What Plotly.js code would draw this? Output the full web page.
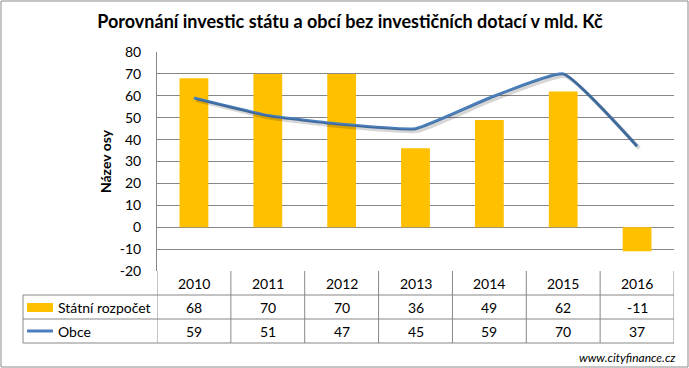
<!DOCTYPE html>
<html>
<head>
<meta charset="utf-8">
<script src="https://cdn.plot.ly/plotly-3.0.1.min.js"></script>
<style>html,body{margin:0;padding:0;background:#fff;}#chart{width:689px;height:368px;}</style>
</head>
<body>
<div id="chart"></div>
<script>
const categories = ['2010','2011','2012','2013','2014','2015','2016'];
const statniRozpocet = [68, 70, 70, 36, 49, 62, -11];
const obce = [59, 51, 47, 45, 59, 70, 37];
const seriesNames = ['Státní rozpočet', 'Obce'];
const yTicks = [-20, -10, 0, 10, 20, 30, 40, 50, 60, 70, 80];

const FONT = 'Lato, Carlito, "Open Sans", sans-serif';
const GRID = '#878787';
const W = 689, H = 368, L = 157, R = 674, T = 52, B = 271;
const pw = R - L, ph = B - T;
const px = p => (p - L) / pw;
const py = p => (B - p) / ph;

const traces = [
  {type:'bar', x:categories, y:statniRozpocet, name:seriesNames[0],
   marker:{color:'#FFC000'}, width:0.39, hoverinfo:'x+y'},
  {type:'scatter', mode:'lines', x:categories, y:obce, name:'shadow',
   xaxis:'x2', yaxis:'y2', line:{color:'rgba(0,0,0,0.16)', width:4, shape:'spline', smoothing:0.4},
   hoverinfo:'skip', showlegend:false},
  {type:'scatter', mode:'lines', x:categories, y:obce, name:seriesNames[1],
   line:{color:'#4A7EBB', width:3, shape:'spline', smoothing:0.4}}
];

const shapes = [];
const annotations = [];
const rowY = [py(295), py(319), py(343)];
for (let i = 0; i <= categories.length; i++) {
  shapes.push({type:'line', xref:'x', yref:'paper', x0:i-0.5, x1:i-0.5, y0:0, y1:rowY[2],
    line:{color:GRID, width:1}});
}
rowY.forEach(y => shapes.push({type:'line', xref:'paper', yref:'paper', x0:px(23), x1:1, y0:y, y1:y,
  line:{color:GRID, width:1}}));
shapes.push({type:'line', xref:'paper', yref:'paper', x0:px(23), x1:px(23), y0:rowY[0], y1:rowY[2],
  line:{color:GRID, width:1}});
shapes.push({type:'rect', xref:'paper', yref:'paper', x0:px(27), x1:px(53), y0:py(303), y1:py(312),
  fillcolor:'#FFC000', line:{width:0}});
shapes.push({type:'line', xref:'paper', yref:'paper', x0:px(27), x1:px(53), y0:py(331), y1:py(331),
  line:{color:'#4A7EBB', width:3}});
shapes.push({type:'rect', xref:'paper', yref:'paper', x0:px(1), x1:px(688), y0:py(1), y1:py(367),
  line:{color:'#8a8a8a', width:1}, fillcolor:'rgba(0,0,0,0)'});

annotations.push({xref:'paper', yref:'paper', x:px(56), y:py(307.5), text:seriesNames[0],
  xanchor:'left', yanchor:'middle', showarrow:false, font:{family:FONT, size:14, color:'#000'}});
annotations.push({xref:'paper', yref:'paper', x:px(56), y:py(331.5), text:seriesNames[1],
  xanchor:'left', yanchor:'middle', showarrow:false, font:{family:FONT, size:14, color:'#000'}});

categories.forEach((c, i) => {
  annotations.push({xref:'x', yref:'paper', x:i, y:py(283), text:c, showarrow:false,
    xanchor:'center', yanchor:'middle', font:{family:FONT, size:14, color:'#000'}});
  annotations.push({xref:'x', yref:'paper', x:i, y:py(307.5), text:String(statniRozpocet[i]), showarrow:false,
    xanchor:'center', yanchor:'middle', font:{family:FONT, size:14, color:'#000'}});
  annotations.push({xref:'x', yref:'paper', x:i, y:py(331.5), text:String(obce[i]), showarrow:false,
    xanchor:'center', yanchor:'middle', font:{family:FONT, size:14, color:'#000'}});
});

annotations.push({xref:'paper', yref:'paper', x:px(678), y:py(357), text:'<i>www.cityfinance.cz</i>',
  xanchor:'right', yanchor:'middle', showarrow:false, font:{family:FONT, size:12, color:'#000'}});

const layout = {
  width:W, height:H,
  margin:{l:L, r:W-R, t:T, b:H-B, pad:0},
  paper_bgcolor:'#fff', plot_bgcolor:'#fff',
  showlegend:false,
  title:{text:'<b>Porovnání investic státu a obcí bez investičních dotací v mld. Kč</b>',
    font:{family:FONT, size:18, color:'#000'}, xref:'paper', x:px(350), xanchor:'center',
    yref:'container', y:1-22/H, yanchor:'middle'},
  xaxis:{type:'category', range:[-0.5, 6.5], showticklabels:false, showgrid:false,
    zeroline:false, showline:false, ticks:'', fixedrange:true},
  xaxis2:{type:'category', overlaying:'x', range:[-0.53, 6.47], visible:false},
  yaxis:{range:[-20, 80], tickvals:yTicks, ticktext:yTicks.map(String), showgrid:true, gridcolor:GRID, gridwidth:1,
    zeroline:false, showline:true, linecolor:GRID, linewidth:1, ticks:'', ticklabelstandoff:12,
    tickfont:{family:FONT, size:14, color:'#000'},
    title:{text:'<b>Název osy</b>', font:{family:FONT, size:14, color:'#000', weight:'bold'}, standoff:4}},
  yaxis2:{overlaying:'y', range:[-19, 81], visible:false},
  shapes:shapes,
  annotations:annotations
};

Plotly.newPlot('chart', traces, layout, {displayModeBar:false, staticPlot:true});
</script>
</body>
</html>
